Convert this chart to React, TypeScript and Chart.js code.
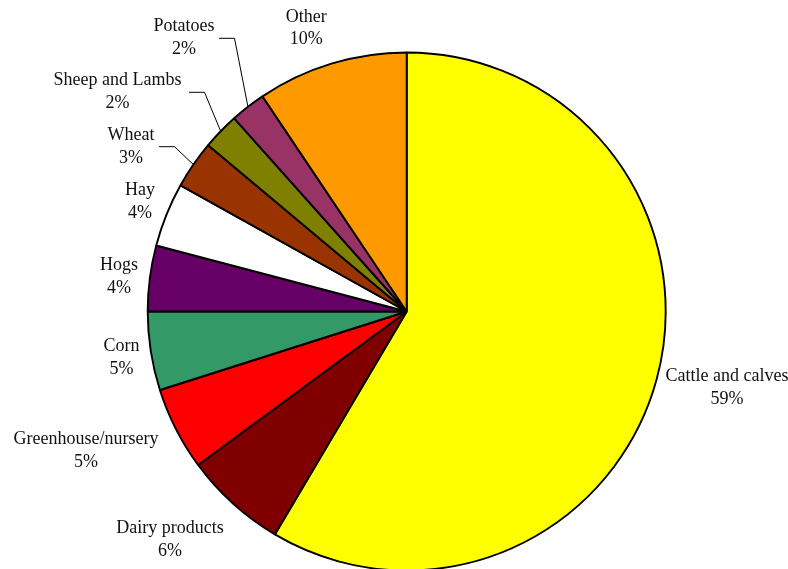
import React, { useEffect, useRef } from "react";
import { Chart, registerables } from "chart.js";

Chart.register(...registerables);

const categories = [
  "Cattle and calves",
  "Dairy products",
  "Greenhouse/nursery",
  "Corn",
  "Hogs",
  "Hay",
  "Wheat",
  "Sheep and Lambs",
  "Potatoes",
  "Other",
];
const shares = [58.5, 6.4, 5.2, 4.9, 4.1, 4.0, 3.0, 2.3, 2.2, 9.4];
const shareLabels = ["59%", "6%", "5%", "5%", "4%", "4%", "3%", "2%", "2%", "10%"];
const sliceColors = [
  "#FFFF00",
  "#800000",
  "#FF0000",
  "#339966",
  "#660066",
  "#FFFFFF",
  "#993300",
  "#808000",
  "#993366",
  "#FF9900",
];

// label placement (text centre x, first baseline y); optional leader start
const labelPlacement: { x: number; y: number; leader?: [number, number] }[] = [
  { x: 727, y: 381 },
  { x: 170, y: 533 },
  { x: 86, y: 444 },
  { x: 121.5, y: 351 },
  { x: 119, y: 270 },
  { x: 140, y: 195 },
  { x: 131, y: 140, leader: [159, 146.7] },
  { x: 117.5, y: 85, leader: [189, 92.3] },
  { x: 184, y: 31, leader: [219, 38.3] },
  { x: 306.3, y: 21.7 },
];

const FONT = '18px "Liberation Serif", "Times New Roman", serif';

const labelPlugin = {
  id: "pieLabels",
  afterDatasetsDraw(chart: any) {
    const ctx = chart.ctx;
    const meta = chart.getDatasetMeta(0);
    ctx.save();
    ctx.font = FONT;
    ctx.fillStyle = "#111";
    ctx.textAlign = "center";
    ctx.textBaseline = "alphabetic";
    meta.data.forEach((arc: any, i: number) => {
      const p = labelPlacement[i];
      ctx.fillText(categories[i], p.x, p.y);
      ctx.fillText(shareLabels[i], p.x, p.y + 22.5);
      if (p.leader) {
        const mid = (arc.startAngle + arc.endAngle) / 2;
        const ex = arc.x + arc.outerRadius * Math.cos(mid);
        const ey = arc.y + arc.outerRadius * Math.sin(mid);
        ctx.beginPath();
        ctx.strokeStyle = "#000";
        ctx.lineWidth = 1;
        ctx.moveTo(p.leader[0], p.leader[1]);
        ctx.lineTo(p.leader[0] + 15.5, p.leader[1]);
        ctx.lineTo(ex, ey);
        ctx.stroke();
      }
    });
    ctx.restore();
  },
};

export default function App() {
  const ref = useRef<HTMLCanvasElement>(null);
  useEffect(() => {
    document.body.style.margin = "0";
    const chart = new Chart(ref.current!, {
      type: "pie",
      data: {
        labels: categories,
        datasets: [
          {
            data: shares,
            backgroundColor: sliceColors,
            borderColor: "#000",
            borderWidth: 1.9,
            clip: false,
          } as any,
        ],
      },
      options: {
        animation: false,
        responsive: false,
        radius: 259,
        layout: { padding: { left: 25.4, right: 0, top: 54, bottom: 0 } },
        plugins: {
          legend: { display: false },
          tooltip: { enabled: false },
        },
      } as any,
      plugins: [labelPlugin],
    });
    return () => chart.destroy();
  }, []);
  return (
    <div style={{ position: "absolute", left: 0, top: 0, width: 788, height: 569, background: "#fff" }}>
      <canvas ref={ref} width={788} height={569} style={{ width: 788, height: 569 }} />
    </div>
  );
}
